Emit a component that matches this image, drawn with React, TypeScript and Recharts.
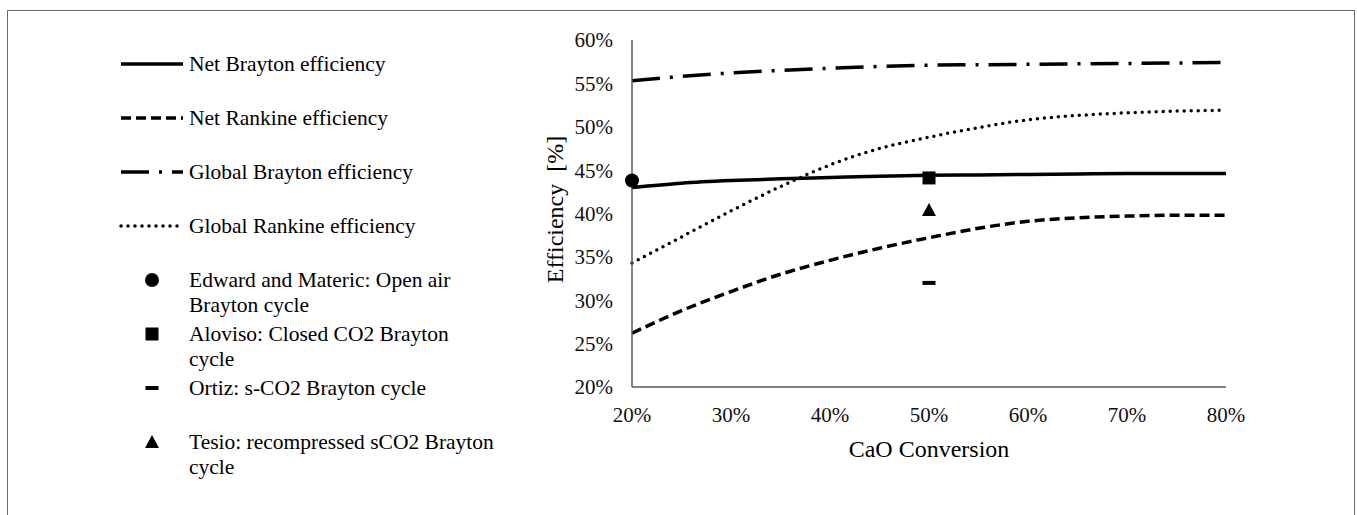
import { ComposedChart, Line, Scatter, XAxis, YAxis, Legend, Label } from 'recharts'

// CaO conversion steps (%)
const conversion = [20, 25, 30, 35, 40, 45, 50, 55, 60, 65, 70, 75, 80]

// efficiencies (%)
const netBrayton    = [43.0, 43.5, 43.8, 44.0, 44.15, 44.3, 44.4, 44.45, 44.5, 44.55, 44.6, 44.6, 44.6]
const netRankine    = [26.2, 28.8, 31.0, 33.0, 34.6, 36.0, 37.2, 38.3, 39.1, 39.5, 39.7, 39.8, 39.8]
const globalBrayton = [55.3, 55.8, 56.2, 56.5, 56.75, 56.95, 57.1, 57.15, 57.2, 57.25, 57.3, 57.35, 57.4]
const globalRankine = [34.3, 37.3, 40.3, 43.1, 45.6, 47.5, 48.8, 49.9, 50.8, 51.3, 51.6, 51.8, 51.9]

// literature points
const edward  = [{ conv: 20, eff: 43.8 }]
const aloviso = [{ conv: 50, eff: 44.1 }]
const ortiz   = [{ conv: 50, eff: 32.0 }]
const tesio   = [{ conv: 50, eff: 40.4 }]

const xTicks = [20, 30, 40, 50, 60, 70, 80]
const yTicks = [20, 25, 30, 35, 40, 45, 50, 55, 60]

const FONT = '"Liberation Serif", serif'
const INK = '#000'

const lineSeries = [
  { key: 'netBrayton',    name: 'Net Brayton efficiency',    values: netBrayton,    dash: undefined,    width: 3.5, cap: 'butt' },
  { key: 'netRankine',    name: 'Net Rankine efficiency',    values: netRankine,    dash: '10 5',       width: 3.5, cap: 'butt' },
  { key: 'globalBrayton', name: 'Global Brayton efficiency', values: globalBrayton, dash: '28 10 3 10', width: 3.5, cap: 'butt' },
  { key: 'globalRankine', name: 'Global Rankine efficiency', values: globalRankine, dash: '0 7',        width: 3.5, cap: 'round' },
] as const

const pointSeries = [
  { name: 'Edward and Materic', data: edward,  marker: 'circle',   text: ['Edward and Materic: Open air', 'Brayton cycle'] },
  { name: 'Aloviso',            data: aloviso, marker: 'square',   text: ['Aloviso: Closed CO2 Brayton', 'cycle'] },
  { name: 'Ortiz',              data: ortiz,   marker: 'dash',     text: ['Ortiz: s-CO2 Brayton cycle'] },
  { name: 'Tesio',              data: tesio,   marker: 'triangle', text: ['Tesio: recompressed sCO2 Brayton', 'cycle'] },
] as const

const rows = conversion.map((c, i) => ({
  conv: c,
  netBrayton: netBrayton[i],
  netRankine: netRankine[i],
  globalBrayton: globalBrayton[i],
  globalRankine: globalRankine[i],
}))

function Marker({ kind, cx, cy }: { kind: string; cx: number; cy: number }) {
  if (kind === 'circle') return <circle cx={cx} cy={cy} r={7} fill={INK} />
  if (kind === 'square') return <rect x={cx - 6.5} y={cy - 6.5} width={13} height={13} fill={INK} />
  if (kind === 'dash') return <rect x={cx - 6.5} y={cy - 2} width={13} height={4} fill={INK} />
  return <polygon points={`${cx},${cy - 7} ${cx + 7},${cy + 6} ${cx - 7},${cy + 6}`} fill={INK} />
}

function renderLegend() {
  const rowY = (i: number) => 64 + 54 * i
  return (
    <svg width={560} height={515} style={{ display: 'block', fontFamily: FONT }}>
      {lineSeries.map((s, i) => (
        <g key={s.key}>
          <line x1={121} x2={183} y1={rowY(i)} y2={rowY(i)} stroke={INK}
            strokeWidth={s.width} strokeDasharray={s.dash} strokeLinecap={s.cap} />
          <text x={189} y={rowY(i) + 7} fontSize={21.5} fill={INK}>{s.name}</text>
        </g>
      ))}
      {pointSeries.map((s, j) => {
        const y = rowY(j + 4)
        return (
          <g key={s.name}>
            <Marker kind={s.marker} cx={152} cy={y} />
            {s.text.map((t, k) => (
              <text key={k} x={189} y={y + 7 + k * 24.5} fontSize={21.5} fill={INK}>{t}</text>
            ))}
          </g>
        )
      })}
    </svg>
  )
}

export default function App() {
  const tickStyle = { fontSize: 21, fill: '#111', style: { fontFamily: FONT } }
  return (
    <div style={{ position: 'absolute', left: 0, top: 0, width: 1357, height: 515, background: '#fff', overflow: 'hidden', fontFamily: FONT }}>
      <div style={{ position: 'absolute', left: 7, top: 10, width: 1348, height: 600, border: '1px solid #666', boxSizing: 'border-box' }} />
      <ComposedChart width={1357} height={515} data={rows} margin={{ top: 40, right: 131, left: 540, bottom: 48 }}
        style={{ fontFamily: FONT }}>
        <XAxis dataKey="conv" type="number" domain={[20, 80]} ticks={xTicks} tickFormatter={(v) => `${v}%`}
          tick={tickStyle} tickLine={false} tickSize={0} tickMargin={20} height={80}
          axisLine={{ stroke: '#595959', strokeWidth: 1.5 }}>
          <Label value="CaO Conversion" position="insideBottom" offset={10} fontSize={24} fill={INK}
            style={{ fontFamily: FONT }} />
        </XAxis>
        <YAxis type="number" domain={[20, 60]} ticks={yTicks} tickFormatter={(v) => `${v}%`}
          tick={tickStyle} tickLine={false} tickSize={0} tickMargin={19} width={92}
          axisLine={{ stroke: '#595959', strokeWidth: 1.5 }}>
          <Label content={(p: any) => {
            const vb = p.viewBox
            const x = vb.x + 15
            const y = vb.y + vb.height / 2 - 4
            return (
              <text x={x} y={y} transform={`rotate(-90 ${x} ${y})`} textAnchor="middle" dominantBaseline="central"
                fontSize={24} fill={INK} style={{ whiteSpace: 'pre', fontFamily: FONT }}>
                {'Efficiency  [%]'}
              </text>
            )
          }} />
        </YAxis>
        {lineSeries.map((s) => (
          <Line key={s.key} type="monotone" dataKey={s.key} name={s.name} stroke={INK} strokeWidth={s.width}
            strokeDasharray={s.dash} strokeLinecap={s.cap} dot={false} activeDot={false} isAnimationActive={false} />
        ))}
        {pointSeries.map((s) => (
          <Scatter key={s.name} name={s.name} data={s.data as any} dataKey="eff" isAnimationActive={false}
            shape={(p: any) => <Marker kind={s.marker} cx={p.cx} cy={p.cy} />} />
        ))}
        <Legend layout="vertical" align="center" verticalAlign="middle" content={renderLegend}
          wrapperStyle={{ left: 0, top: 0, width: 560, height: 515 }} />
      </ComposedChart>
    </div>
  )
}
